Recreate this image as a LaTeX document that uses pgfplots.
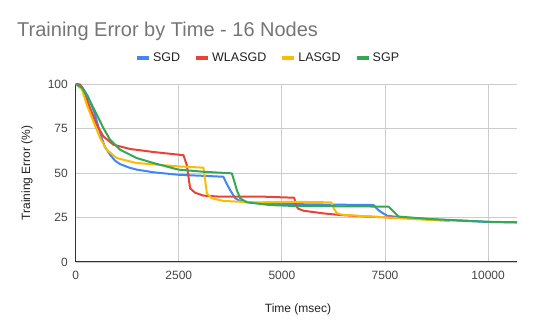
\documentclass[border=0pt]{standalone}
\usepackage{fontspec}
\setmainfont{Liberation Sans}
\usepackage{pgfplots}
\pgfplotsset{compat=1.18}
\definecolor{cblue}{HTML}{4285F4}
\definecolor{cred}{HTML}{EA4335}
\definecolor{cyellow}{HTML}{FBBC04}
\definecolor{cgreen}{HTML}{34A853}
\definecolor{gridgray}{HTML}{CCCCCC}
\definecolor{axisdark}{HTML}{333333}
\definecolor{ticktext}{HTML}{444444}
\definecolor{titlegray}{HTML}{757575}
\definecolor{legtext}{HTML}{222222}
\begin{document}
\begin{tikzpicture}[x=1pt,y=1pt]
\path[use as bounding box] (0,0) rectangle (534,331);
\node[anchor=base west, text=titlegray, font=\fontsize{20}{24}\selectfont, inner sep=0pt] at (17,294) {Training Error by Time - 16 Nodes};
\node[rotate=90, text=legtext, font=\fontsize{12}{14}\selectfont, inner sep=0pt] at (27,158) {Training Error (\%)};
\node[text=legtext, font=\fontsize{12}{14}\selectfont, inner sep=0pt] at (298,22) {Time (msec)};
\begin{axis}[
  at={(75.7pt,69pt)}, anchor=south west, scale only axis,
  width=441.3pt, height=178pt,
  xmin=0, xmax=10700, ymin=0, ymax=100,
  xtick={0,2500,5000,7500,10000}, ytick={0,25,50,75,100},
  scaled ticks=false,
  xticklabels={0,2500,5000,7500,10000},
  grid=major, grid style={color=gridgray, line width=0.9pt},
  axis lines=left, axis line style={-, color=axisdark, line width=1pt},
  major tick length=0pt,
  tick label style={font=\fontsize{12}{14}\selectfont, text=ticktext},
  /pgf/number format/assume math mode=true,
  /pgf/number format/set thousands separator={},
  xticklabel style={anchor=center, yshift=-13.7pt},
  yticklabel style={anchor=east, inner sep=0pt, xshift=-7.7pt},
  legend columns=4,
  legend style={draw=none, fill=none, at={(0.436,1.146)}, anchor=center,
    font=\fontsize{12.5}{14}\selectfont, text=legtext,
    /tikz/every even column/.append style={column sep=12pt}},
  legend image code/.code={\draw[#1, line width=4pt] (0pt,0pt) -- (12pt,0pt);},
  every axis plot/.append style={line width=2pt, line join=round},
]
\addplot[cblue] coordinates {(0,100) (150,98.5) (300,93) (450,84) (600,72) (700,65) (833,60.3) (950,57) (1075,55) (1300,53) (1480,51.9) (1884,50.4) (2490,49) (3000,48.5) (3580,47.9) (3660,44) (3745,40.4) (3867,35.8) (3988,34.3) (4300,33.3) (5000,32.6) (6000,32.3) (7224,32) (7300,30) (7386,28.3) (7549,26) (7871,25.1) (8500,24.2) (9500,23) (10000,22.5) (10700,22.2)};
\addlegendentry{SGD}
\addplot[cred] coordinates {(0,100) (100,99.8) (200,96) (347,86.5) (510,77) (670,70.6) (913,65.9) (1318,63.5) (1884,61.8) (2490,60.3) (2612,60) (2694,54.5) (2774,41.4) (2896,38.9) (3097,37.3) (3500,36.7) (4553,36.7) (5300,36.1) (5340,32) (5390,30) (5525,28.8) (6010,27.3) (6415,26.4) (7000,25.6) (7800,24.8)};
\addlegendentry{WLASGD}
\addplot[cyellow] coordinates {(0,100) (150,97) (267,88.4) (428,79) (590,69.7) (752,63.1) (995,58.4) (1480,55.6) (2490,53.7) (3097,53) (3138,46) (3180,38.6) (3300,35.8) (3583,34.3) (4311,33.5) (5364,33.8) (6200,33.5) (6260,30) (6330,27.5) (6450,26.6) (6820,26) (7500,25.1) (8114,24.2) (9085,23)};
\addlegendentry{LASGD}
\addplot[cgreen] coordinates {(0,100) (150,98) (347,90.3) (510,82.8) (670,75.3) (833,68.7) (1075,63.1) (1480,58.4) (1884,55.6) (2490,51.9) (3097,50.7) (3786,49.8) (3850,45) (3907,40.4) (3988,35.8) (4150,33.5) (4716,32) (5364,31.4) (6500,31.3) (7588,31.1) (7700,28.5) (7750,27.3) (7830,25.5) (8114,25) (8680,24) (9490,23.2) (10000,22.6) (10700,22.3)};
\addlegendentry{SGP}
\end{axis}
\end{tikzpicture}
\end{document}
